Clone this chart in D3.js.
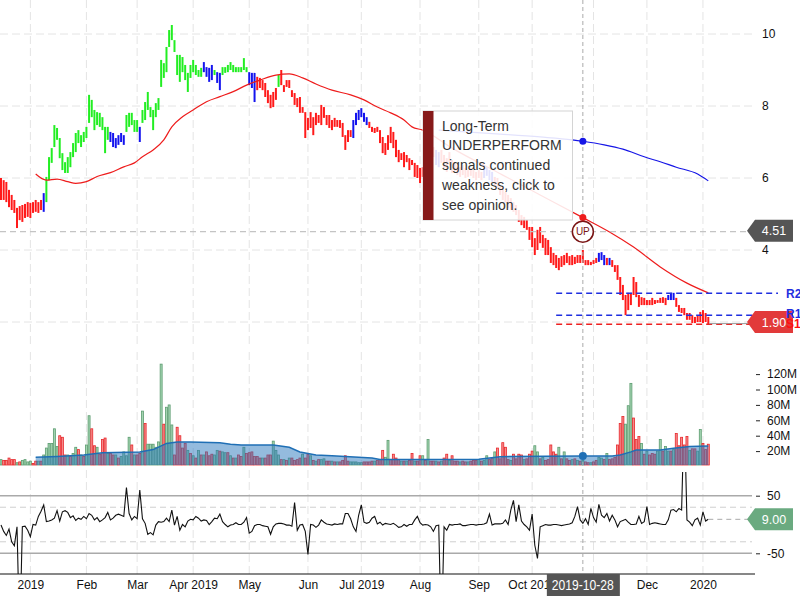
<!DOCTYPE html>
<html><head><meta charset="utf-8">
<script src="https://cdn.jsdelivr.net/npm/d3@7"></script>
<style>body{margin:0;background:#fff}svg{display:block;font-family:"Liberation Sans",Arial,sans-serif}</style>
</head><body><svg id="c" width="800" height="600"></svg>
<script>
// ---------- DATA ----------
const highs = [
6.00,5.94,5.89,5.67,5.53,5.39,5.17,5.22,5.25,5.28,
5.33,5.31,5.33,5.39,5.33,5.39,5.58,6.03,6.58,6.83,
7.47,7.39,7.11,6.69,6.44,6.58,6.72,6.97,7.25,7.33,
7.19,7.28,7.42,8.31,8.17,7.89,7.83,7.81,7.69,7.42,
7.42,7.28,7.25,7.11,7.19,7.25,7.19,7.75,7.81,7.81,
7.61,7.61,7.42,7.89,8.11,8.39,7.97,7.89,8.08,8.22,
9.28,9.19,9.64,10.11,10.25,9.83,9.42,9.42,9.36,9.14,
8.92,9.14,9.28,9.14,9.00,9.06,9.22,9.08,9.06,9.14,
9.00,8.94,8.92,9.08,9.08,9.14,9.22,9.14,9.08,9.08,
9.08,9.33,9.08,8.94,8.92,8.92,8.81,8.78,8.72,8.64,
8.44,8.31,8.39,8.50,8.86,9.00,8.58,8.72,8.72,8.44,
8.36,8.22,8.25,7.97,7.83,7.67,7.83,7.69,7.81,7.75,
8.03,7.97,7.75,7.75,7.61,7.67,7.61,7.61,7.53,7.19,
7.33,7.33,7.61,7.81,7.89,7.94,7.81,7.69,7.56,7.42,
7.39,7.42,7.33,7.14,6.97,7.19,7.42,7.28,7.06,6.78,
6.69,6.72,6.64,6.55,6.50,6.42,6.36,6.28,6.30,6.36,
7.14,7.06,6.86,6.78,6.72,6.78,6.64,6.55,6.72,6.50,
6.44,6.36,6.30,6.36,6.28,6.22,6.28,6.22,6.17,6.22,
6.17,6.28,6.30,6.22,6.17,6.03,6.00,5.81,5.72,5.61,
5.53,5.44,5.33,5.25,5.11,4.97,4.92,4.83,4.64,4.64,
4.33,4.56,4.64,4.42,4.33,4.28,4.08,3.92,3.86,3.78,
3.83,3.86,3.92,3.83,3.86,3.81,3.86,3.86,4.00,3.72,
3.72,3.67,3.72,3.78,3.92,3.94,3.86,3.78,3.78,3.72,
3.58,3.58,3.25,3.03,2.75,2.81,2.81,3.25,3.11,2.75,
2.69,2.67,2.61,2.61,2.67,2.61,2.61,2.67,2.69,2.67,
2.75,2.81,2.81,2.67,2.47,2.39,2.39,2.25,2.25,2.19,
2.14,2.19,2.28,2.33,2.25,2.14];
const lows = [
5.39,5.39,5.33,5.19,5.11,5.03,4.61,4.83,4.78,4.89,
4.92,4.89,5.03,5.06,5.03,5.11,5.06,5.33,5.94,6.42,
6.86,7.06,6.55,6.22,6.14,6.14,6.30,6.58,6.72,6.97,
6.86,7.00,7.11,7.53,7.69,7.33,7.47,7.42,7.33,6.69,
7.06,7.00,6.86,6.83,6.92,7.00,6.92,7.28,7.42,7.47,
7.28,7.28,7.00,7.53,7.61,7.89,7.69,7.33,7.69,7.89,
8.53,8.78,8.94,9.64,9.83,9.50,8.86,8.67,8.94,8.72,
8.39,8.78,8.94,8.86,8.81,8.81,8.94,8.81,8.67,8.72,
8.86,8.64,8.44,8.86,8.92,8.94,9.00,8.94,8.94,8.94,
8.94,9.00,8.94,8.58,8.50,8.11,8.44,8.50,8.44,8.25,
8.08,7.94,7.97,8.17,8.53,8.58,8.39,8.53,8.50,8.25,
8.03,7.97,7.81,7.81,7.11,7.33,7.39,7.19,7.47,7.53,
7.47,7.67,7.47,7.39,7.33,7.42,7.42,7.39,7.14,6.78,
7.00,7.14,7.11,7.47,7.61,7.69,7.56,7.47,7.39,7.28,
7.25,7.28,6.97,6.69,6.64,6.78,6.97,6.83,6.58,6.44,
6.50,6.30,6.44,6.22,6.36,6.03,6.00,5.86,6.03,6.14,
6.78,6.69,6.58,6.36,6.30,6.42,6.28,6.17,6.36,6.14,
6.17,6.08,6.03,6.08,6.00,6.03,6.06,6.00,5.94,6.00,
5.94,6.00,6.06,5.94,5.89,5.78,5.72,5.53,5.39,5.31,
5.17,5.11,5.06,4.97,4.78,4.69,4.61,4.56,4.28,4.08,
3.86,4.00,4.19,4.06,3.86,3.86,3.64,3.58,3.50,3.44,
3.53,3.58,3.64,3.58,3.58,3.61,3.64,3.64,3.64,3.58,
3.58,3.58,3.61,3.64,3.67,3.72,3.58,3.58,3.58,3.53,
3.39,3.17,2.75,2.61,2.19,2.33,2.47,2.75,2.69,2.42,
2.47,2.47,2.47,2.47,2.47,2.50,2.53,2.53,2.53,2.47,
2.61,2.61,2.61,2.42,2.28,2.25,2.19,2.06,2.06,1.97,
1.97,2.00,2.00,1.97,2.00,1.94];
// signal colour runs: [first bar, last bar, state]
const signalRuns = [[0,15,"under"],[16,16,"neutral"],[17,40,"over"],[41,46,"neutral"],[47,51,"over"],[52,52,"neutral"],
[53,75,"over"],[76,79,"neutral"],[80,80,"over"],[81,82,"neutral"],[83,92,"over"],[93,95,"neutral"],[96,103,"under"],
[104,104,"over"],[105,131,"under"],[132,137,"neutral"],[138,162,"under"],[163,164,"neutral"],[165,180,"under"],
[181,184,"neutral"],[185,223,"under"],[224,226,"neutral"],[227,227,"under"],[228,228,"neutral"],[229,249,"under"],
[250,252,"neutral"],[253,265,"under"]];
const maShort = [[13,6.11],[17,5.94],[21,5.97],[25,5.90],[28,5.85],[32,5.90],[36,6.04],[41,6.15],[46,6.31],[50,6.42],
[53,6.59],[57,6.78],[61,7.06],[64,7.42],[68,7.70],[72,7.89],[77,8.12],[82,8.26],[87,8.40],[92,8.58],[97,8.72],
[103,8.86],[108,8.89],[113,8.78],[118,8.61],[124,8.44],[131,8.31],[136,8.17],[141,7.97],[146,7.81],[151,7.61],
[154,7.42],[158,7.33],[169,6.83],[188,6.08],[202,5.53],[218,4.90],[228,4.50],[237,4.08],[247,3.53],[257,3.08],[265,2.81]];
const maLong = [[164,7.33],[187,7.22],[202,7.14],[214,7.06],[218,7.02],[226,6.92],[233,6.80],[241,6.59],[247,6.45],
[253,6.30],[261,6.11],[265,5.92]];
const volumes = [
7,6,6,9,7,7,3,4,6,7, 4,5,2,5,5,5,13,22,28,28, 47,24,38,36,13,13,11,15,23,20,
13,11,26,64,47,25,23,14,33,35, 15,15,13,13,9,11,17,12,36,26, 13,13,15,70,54,27,27,27,23,30,
131,53,75,78,52,13,49,38,22,28, 19,15,12,9,19,13,13,17,12,14, 13,19,18,17,16,16,12,9,9,13,
11,23,15,16,17,11,11,9,9,9, 13,13,31,19,13,7,7,6,9,9, 6,7,9,14,9,14,12,6,5,7,
7,8,5,5,5,4,4,4,6,12, 5,4,4,4,3,3,4,4,4,5, 5,6,7,19,10,32,7,14,9,7,
5,5,5,6,15,5,5,12,12,6, 33,5,5,5,4,5,9,14,6,12, 5,5,4,5,4,4,5,6,6,7,
5,6,12,7,9,17,22,8,29,23, 7,6,14,8,14,13,7,8,14,18, 25,17,8,10,6,7,26,17,14,23,
8,17,8,6,7,8,6,5,6,4, 3,3,4,6,10,9,7,15,7,8, 10,26,54,63,53,77,106,61,33,37,
28,14,18,13,15,14,18,33,18,24, 18,18,20,41,25,36,26,37,19,21, 21,18,46,28,20,27];
const volumeDir = ["grrrrrgrgg","ggrrgrgggg","ggrrrgrggr","grggrrgrrr","grrgrggggr","grrgrggggg","grgggrrrrr",
"grgrgrgrrr","ggrggrgrgr","rgrrrrrrgr","rrgggrgrgr","rrrgrrgrgr","ggrrgrgrrr","rgggggrrrr","grrrggrrrr",
"grgrrgrrgr","grrgrgrrgr","rrgrrgrrrg","rggrrgrrrr","rgrrrrgrrr","ggrgrrrrrg","rgrrgrgrgr","rgrrggrgrr",
"rrrrgggrrr","grgrrrggrg","grgrrrrrgr","rggrrr"].join("");
const volumeMA = [[13,10],[21,11],[31,13],[38,16],[52,17],[57,20],[62,28],[66,30],[71,30],[82,29],[86,27],[90,26],
[102,26],[108,23],[112,17],[118,13],[124,12],[134,10],[139,9],[142,7],[150,7],[179,7.4],[187,10.8],[218,11.7],
[229,11.7],[232,13],[236,17],[238,19.5],[247,19.5],[252,21.6],[258,24],[265,24.7]];
const oscillator = [
-1,-12,-19,-8,-30,-37,-4,-200,-4,-3, -10,-21,0,-1,14,23,34,5,6,8, 11,24,6,22,24,21,12,15,7,11,
9,14,10,19,16,8,12,5,8,12, 21,8,11,16,18,16,14,64,19,8, 14,10,60,10,2,-17,-14,-18,-1,5,
4,5,11,5,25,-1,14,-10,0,-4, 6,9,8,14,11,6,8,7,0,5, 11,10,18,5,0,-4,-1,0,3,0,
0,4,12,-15,-12,-2,0,0,-2,-3, -4,-17,-4,1,2,2,1,-1,-1,-3, 38,-10,-1,0,-12,-52,0,-1,-5,-1,
8,4,1,0,-1,1,0,1,1,19, 19,10,-4,-12,16,34,4,2,4,11, 14,1,4,-1,2,1,0,2,-1,-5,
-4,0,-3,0,0,8,14,3,-1,0, -1,-4,-12,-2,-1,-200,-4,-10,0,-1, 0,0,1,-2,-2,-1,0,0,-1,0,
0,1,3,18,-1,1,1,1,2,8, 0,25,42,5,34,6,0,-4,-10,18, -36,-59,-4,-2,0,-1,-1,0,0,-1,
-2,-1,0,1,3,14,31,8,2,10, 0,28,12,4,35,16,12,19,6,16, 8,-4,5,7,9,4,0,0,1,14,
2,5,31,0,2,3,2,1,0,0, 8,25,26,22,28,25,200,8,4,-2, 8,11,-1,22,6,9];
const monthTicks = [11,32,51,72,93,115,135,157,179,199,222,242,263];
const monthLabels = ["2019","Feb","Mar","Apr 2019","May","Jun","Jul 2019","Aug","Sep","Oct 2019","Nov","Dec","2020"];
const priceGrid = [10,8,6,4,2];
const priceTicks = [10,8,6,4];
const volumeTicks = [20,40,60,80,100,120];
const oscTicks = [50,-50];
const oscBands = [30,-30];
const levels = [{name:"R2",value:2.80,kind:"res"},{name:"R1",value:2.19,kind:"res"},{name:"S1",value:1.94,kind:"sup"}];
const levelStart = 208;
const lastPrice = 1.90, crossPrice = 4.51, lastOsc = 9.00;
const crossIndex = 218, crossDate = "2019-10-28";
const calloutLines = ["Long-Term","UNDERPERFORM","signals continued","weakness, click to","see opinion."];

// ---------- SCALES ----------
const svg = d3.select("#c");
const N = highs.length;
const x = d3.scaleLinear().domain([0, N-1]).range([1, 708.3]);
const yP = d3.scaleLinear().domain([2,10]).range([322,34]);
const yV = d3.scaleLinear().domain([0,120]).range([465,372.6]);
const yO = d3.scaleLinear().domain([-50,50]).range([553.3,495.7]);
const right = 752;
const sigColor = {under:"#ff1a1a", over:"#22ee22", neutral:"#1414ee"};
const colAt = i => sigColor[signalRuns.find(r => i>=r[0] && i<=r[1])[2]];

// ---------- GRID ----------
const grid = svg.append("g").attr("stroke","#e4e4e4").attr("stroke-dasharray","8,4").attr("stroke-width",1);
[[0,345],[352,465],[470,574]].forEach(([a,b]) => {
  grid.selectAll(null).data(monthTicks).enter().append("line")
    .attr("x1",d=>x(d)).attr("x2",d=>x(d)).attr("y1",a).attr("y2",b);
});
grid.selectAll(null).data(priceGrid).enter().append("line")
  .attr("x1",0).attr("x2",right).attr("y1",d=>yP(d)).attr("y2",d=>yP(d));

// ---------- VOLUME ----------
svg.append("g").selectAll("rect").data(volumes).enter().append("rect")
  .attr("x",(d,i)=>x(i)-1).attr("width",2)
  .attr("y",d=>yV(d)).attr("height",d=>yV(0)-yV(d))
  .attr("fill",(d,i)=>volumeDir[i]==="g"?"#a3d4b1":"#f58b8b")
  .attr("stroke",(d,i)=>volumeDir[i]==="g"?"#5c9c70":"#e8262a").attr("stroke-width",0.8);
svg.append("path").datum(volumeMA)
  .attr("d",d3.area().x(d=>x(d[0])).y0(yV(0)).y1(d=>yV(d[1])))
  .attr("fill","#2a78bd").attr("fill-opacity",0.5);
svg.append("path").datum(volumeMA)
  .attr("d",d3.line().x(d=>x(d[0])).y(d=>yV(d[1])))
  .attr("fill","none").attr("stroke","#1f6fb5").attr("stroke-width",1.5);

// ---------- PRICE ----------
svg.append("g").selectAll("line").data(highs).enter().append("line")
  .attr("x1",(d,i)=>x(i)).attr("x2",(d,i)=>x(i))
  .attr("y1",d=>yP(d)).attr("y2",(d,i)=>yP(lows[i]))
  .attr("stroke",(d,i)=>colAt(i)).attr("stroke-width",2);
const ln = d3.line().x(d=>x(d[0])).y(d=>yP(d[1])).curve(d3.curveMonotoneX);
svg.append("path").datum(maShort).attr("d",ln).attr("fill","none").attr("stroke","#ee1c1c").attr("stroke-width",1.2);
svg.append("path").datum(maLong).attr("d",ln).attr("fill","none").attr("stroke","#1616e6").attr("stroke-width",1.2);

// support / resistance
const lvlColor = {res:"#1f2fe0", sup:"#ee2020"};
svg.append("g").selectAll("line").data(levels).enter().append("line")
  .attr("x1",x(levelStart)).attr("x2",778).attr("y1",d=>yP(d.value)).attr("y2",d=>yP(d.value))
  .attr("stroke",d=>lvlColor[d.kind]).attr("stroke-width",1.5).attr("stroke-dasharray","6,4");

// horizontal crosshair
svg.append("line").attr("x1",0).attr("x2",748).attr("y1",yP(crossPrice)).attr("y2",yP(crossPrice))
  .attr("stroke","#c4c4c4").attr("stroke-width",1.3).attr("stroke-dasharray","6,4");
// last price line
svg.append("line").attr("x1",x(N-1)+1).attr("x2",748).attr("y1",yP(lastPrice)-2).attr("y2",yP(lastPrice)-2)
  .attr("stroke","#999").attr("stroke-width",1);

// callout
const cb = svg.append("g");
cb.append("rect").attr("x",423).attr("y",111).attr("width",149.5).attr("height",109)
  .attr("fill","#fff").attr("fill-opacity",0.88).attr("stroke","#d4d4d4");
cb.append("rect").attr("x",423).attr("y",111).attr("width",10.5).attr("height",109).attr("fill","#861a1a");
cb.selectAll("text").data(calloutLines).enter().append("text")
  .attr("x",442).attr("y",(d,i)=>130.5+i*19.8).attr("font-size",14).attr("fill","#333").text(d=>d);

// ---------- OSCILLATOR ----------
svg.append("defs").append("clipPath").attr("id","oc").append("rect").attr("x",0).attr("y",472).attr("width",760).attr("height",102);
svg.append("g").selectAll("line").data(oscTicks).enter().append("line")
  .attr("x1",0).attr("x2",right).attr("y1",d=>yO(d)).attr("y2",d=>yO(d)).attr("stroke","#aaa").attr("stroke-width",1.5);
svg.append("g").selectAll("line").data(oscBands).enter().append("line")
  .attr("x1",0).attr("x2",right).attr("y1",d=>yO(d)).attr("y2",d=>yO(d)).attr("stroke","#cfcfcf").attr("stroke-dasharray","6,4");
svg.append("path").datum(oscillator).attr("clip-path","url(#oc)")
  .attr("d",d3.line().x((d,i)=>x(i)).y(d=>yO(d)))
  .attr("fill","none").attr("stroke","#111").attr("stroke-width",1.1);
svg.append("line").attr("x1",x(N-1)).attr("x2",748).attr("y1",yO(lastOsc)).attr("y2",yO(lastOsc))
  .attr("stroke","#aaa").attr("stroke-dasharray","5,4");

// ---------- AXES ----------
const styleAxis = g => { g.select(".domain").remove(); g.selectAll("text").attr("fill","#111").attr("font-size",12).attr("font-family","Liberation Sans, Arial, sans-serif"); g.selectAll(".tick line").attr("stroke","#222"); };
svg.append("g").attr("transform","translate(757,0)")
  .call(d3.axisRight(yP).tickValues(priceTicks).tickSize(0).tickPadding(5).tickFormat(d=>String(d))).call(styleAxis);
svg.append("g").attr("transform","translate(756,1.5)")
  .call(d3.axisRight(yV).tickValues(volumeTicks).tickSize(4).tickPadding(7).tickFormat(d=>d+"M")).call(styleAxis);
svg.append("g").attr("transform","translate(756,0)")
  .call(d3.axisRight(yO).tickValues(oscTicks).tickSize(4).tickPadding(7).tickFormat(d=>String(d))).call(styleAxis);
svg.append("g").attr("transform","translate(0,574)")
  .call(d3.axisBottom(x).tickValues(monthTicks).tickSize(0).tickPadding(6).tickFormat((d,i)=>monthLabels[i])).call(styleAxis);
svg.append("line").attr("x1",0).attr("x2",755).attr("y1",574).attr("y2",574).attr("stroke","#111").attr("stroke-width",1.2);

// ---------- TAGS ----------
function tag(cy, text, fill){
  const g = svg.append("g");
  g.append("path").attr("d",`M747,${cy} L755,${cy-11} L793,${cy-11} L793,${cy+11} L755,${cy+11} Z`).attr("fill",fill);
  g.append("text").attr("x",774).attr("y",cy).attr("dy","0.36em").attr("text-anchor","middle")
    .attr("fill","#fff").attr("font-size",12.5).text(text);
}
tag(yP(crossPrice)-1, crossPrice.toFixed(2), "#555");
tag(yP(lastPrice)-3.5, lastPrice.toFixed(2), "#e23a3a");
tag(yO(lastOsc), lastOsc.toFixed(2), "#6aaa80");
svg.append("g").selectAll("text").data(levels).enter().append("text")
  .attr("x",786).attr("y",d=>yP(d.value)).attr("dy",d=>d.name==="R1"?"0.2em":"0.36em")
  .attr("fill",d=>d.kind==="res"?"#1f2fe0":"#ff1010").attr("font-size",12).attr("font-weight","bold").text(d=>d.name);

// ---------- CROSSHAIR ----------
const cx = x(crossIndex);
svg.append("line").attr("x1",cx).attr("x2",cx).attr("y1",0).attr("y2",574)
  .attr("stroke","#aaa").attr("stroke-dasharray","4,3");
const maAt = arr => arr.find(d=>d[0]===crossIndex)[1];
svg.append("circle").attr("cx",cx).attr("cy",yP(maAt(maShort))).attr("r",3.5).attr("fill","#ee1c1c");
svg.append("circle").attr("cx",cx).attr("cy",yP(maAt(maLong))).attr("r",3.5).attr("fill","#1616e6");
svg.append("circle").attr("cx",cx).attr("cy",yV(maAt(volumeMA))).attr("r",4).attr("fill","#1f6fb5");
svg.append("circle").attr("cx",cx).attr("cy",yP(crossPrice)).attr("r",10.5).attr("fill","#fff")
  .attr("stroke","#7a1414").attr("stroke-width",1.5);
svg.append("text").attr("x",cx).attr("y",yP(crossPrice)).attr("dy","0.36em").attr("text-anchor","middle")
  .attr("font-size",10).attr("fill","#7a1414").text("UP");
svg.append("rect").attr("x",cx-36).attr("y",574).attr("width",73).attr("height",22).attr("fill","#555");
svg.append("text").attr("x",cx).attr("y",585).attr("dy","0.36em").attr("text-anchor","middle")
  .attr("fill","#fff").attr("font-size",14).attr("textLength",62).attr("lengthAdjust","spacingAndGlyphs").text(crossDate);
</script></body></html>
